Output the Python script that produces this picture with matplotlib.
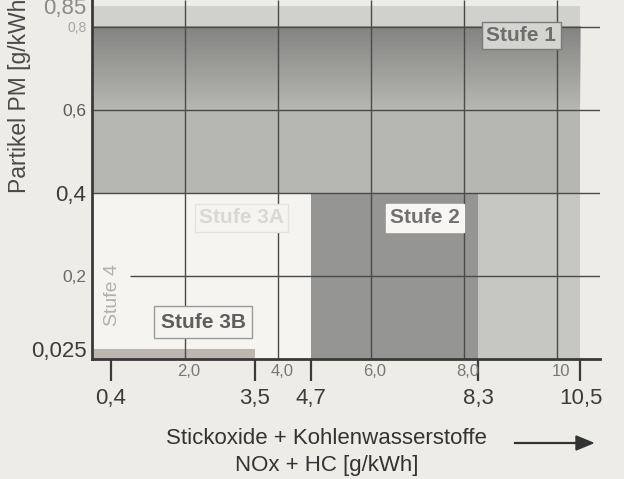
import numpy as np
import matplotlib.pyplot as plt
from matplotlib.colors import LinearSegmentedColormap

# Grenzwerte der Abgasstufen (NOx + HC, Partikel PM)
stufen = ['Stufe 1', 'Stufe 2', 'Stufe 3A', 'Stufe 3B', 'Stufe 4']
nox_hc = [10.5, 8.3, 4.7, 3.5, 0.4]
pm = [0.85, 0.4, 0.4, 0.025, 0.025]

x_ticks = [0.4, 3.5, 4.7, 8.3, 10.5]
x_labels = ['0,4', '3,5', '4,7', '8,3', '10,5']
x_grid = [2.0, 4.0, 6.0, 8.0, 10.0]
x_grid_labels = ['2,0', '4,0', '6,0', '8,0', '10']
y_ticks = [0.025, 0.2, 0.4, 0.6, 0.8, 0.85]
y_labels = ['0,025', '0,2', '0,4', '0,6', '0,8', '0,85']
y_grid = [0.2, 0.4, 0.6, 0.8]

papier = '#eeece7'
farben = ['#b6b6b3', '#959593', '#f5f4f0', '#bdb6b0', '#bdb6b0']

plt.rcParams['font.family'] = ['Liberation Sans', 'DejaVu Sans']

fig = plt.figure(figsize=(6.24, 4.79), dpi=100)
fig.patch.set_facecolor(papier)
ax = fig.add_axes([92/624, 120/479, 508/624, 359/479])
ax.set_facecolor(papier)
ax.set_xlim(0, 10.92)
ax.set_ylim(0, 0.865)

# Flächen der Stufen
for name, x, y, c in zip(stufen, nox_hc, pm, farben):
    ax.bar(0, y, width=x, align='edge', color=c, linewidth=0, zorder=1)

# heller Streifen oben und dunkler Verlauf unter 0,8
ax.bar(0, pm[0] - y_grid[-1], bottom=y_grid[-1], width=nox_hc[0], align='edge',
       color='#d0d0cd', linewidth=0, zorder=1.2)
verlauf = LinearSegmentedColormap.from_list('v', [(0, 0, 0, 0), (0, 0, 0, 0.28)])
grad = np.linspace(0, 1, 100).reshape(-1, 1)
ax.imshow(grad, cmap=verlauf, extent=[0, nox_hc[0], y_grid[2], y_grid[3]],
          origin='lower', aspect='auto', zorder=1.3)
ax.bar(nox_hc[1], pm[1], width=nox_hc[0] - nox_hc[1], align='edge',
       color='#c6c6c3', linewidth=0, zorder=1.1)

# Gitter
ax.vlines(x_grid, 0, 0.865, colors='#4a4a4a', linewidth=1.0, zorder=2)
for gy in y_grid:
    start = 0.82 if gy == 0.2 else 0
    ax.hlines(gy, start, 10.92, colors='#4a4a4a', linewidth=1.0, zorder=2)

# Beschriftungen der Stufen
ax.text(9.23, 0.78, stufen[0], ha='center', va='center', fontsize=15, weight='bold',
        color='#6e6e6e', zorder=4,
        bbox=dict(boxstyle='square,pad=0.2', fc='#d4d4d1', ec='#7a7a7a', lw=1))
ax.text(7.16, 0.34, stufen[1], ha='center', va='center', fontsize=15, weight='bold',
        color='#707070', zorder=4,
        bbox=dict(boxstyle='square,pad=0.2', fc='#f7f6f2', ec='#f7f6f2', lw=1))
ax.text(3.22, 0.34, stufen[2], ha='center', va='center', fontsize=15, weight='bold',
        color='#d8d8d6', zorder=4,
        bbox=dict(boxstyle='square,pad=0.2', fc='#f5f4f0', ec='#e2e2e0', lw=1))
ax.text(2.39, 0.089, stufen[3], ha='center', va='center', fontsize=15, weight='bold',
        color='#5e5e5e', zorder=4,
        bbox=dict(boxstyle='square,pad=0.3', fc='#f5f4f0', ec='#9a9a9a', lw=1))
ax.text(0.43, 0.154, stufen[4], ha='center', va='center', fontsize=14, rotation=90,
        color='#b0b0b0', zorder=4)

# Achsen
for s in ['top', 'right']:
    ax.spines[s].set_visible(False)
for s in ['left', 'bottom']:
    ax.spines[s].set_linewidth(2)
    ax.spines[s].set_color('#3a3a3a')
    ax.spines[s].set_zorder(5)

ax.set_xticks(x_ticks)
ax.set_xticklabels(x_labels, fontsize=16, color='#3c3c3c')
ax.tick_params(axis='x', direction='out', length=16, width=1.6, color='#3a3a3a', pad=5)

for gx, gl in zip(x_grid, x_grid_labels):
    ax.text(gx + 0.08, -0.035, gl, transform=ax.get_xaxis_transform(), ha='center',
            va='center', fontsize=12, color='#777777')

ax.set_yticks(y_ticks)
ax.set_yticklabels(y_labels)
ax.tick_params(axis='y', length=0, pad=4)
groessen = [16, 12.5, 16, 12.5, 10, 16]
farben_y = ['#3c3c3c', '#6a6a6a', '#3c3c3c', '#5a5a5a', '#a5a5a5', '#8a8a8a']
for lab, g, c in zip(ax.get_yticklabels(), groessen, farben_y):
    lab.set_fontsize(g)
    lab.set_color(c)

fig.text(20/624, 1 - 193/479, 'Partikel PM [g/kWh]', rotation=90, ha='center',
         va='bottom', fontsize=16.5, color='#4a4a4a')
fig.text(326/624, 1 - 438/479, 'Stickoxide + Kohlenwasserstoffe', ha='center',
         va='center', fontsize=16, color='#333333')
fig.text(327/624, 1 - 465/479, 'NOx + HC [g/kWh]', ha='center', va='center',
         fontsize=16, color='#333333')
fig.add_artist(plt.Line2D([515/624, 578/624], [1 - 443/479, 1 - 443/479],
                          transform=fig.transFigure, color='#333333', lw=1.6))
fig.patches.append(plt.Polygon([[576/624, 1 - 436/479], [593/624, 1 - 443/479],
                                [576/624, 1 - 450/479]], closed=True,
                               transform=fig.transFigure, color='#333333'))

fig.savefig('out.png', dpi=100, facecolor=papier)
